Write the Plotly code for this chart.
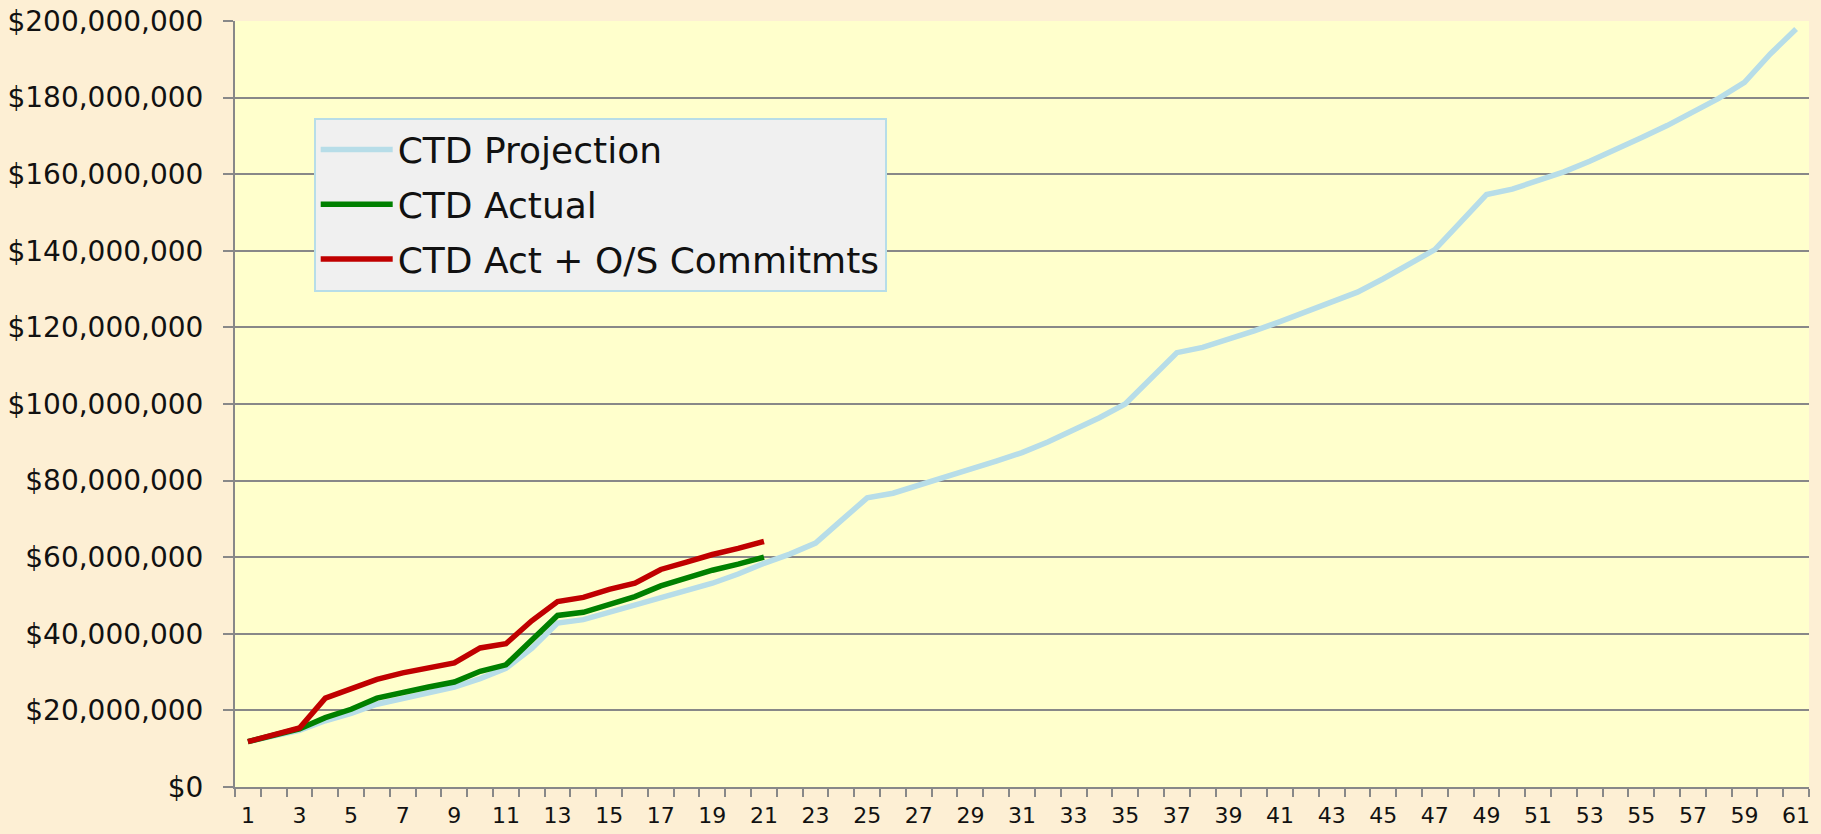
import plotly.graph_objects as go

# ---- data (values in $ millions) ----
months = list(range(1, 62))

ctd_projection = [
    11.85, 13.3, 14.8, 17.3, 19.2, 21.6, 23.2, 24.6, 26.1, 28.3,
    31.0, 36.2, 42.8, 43.7, 45.6, 47.5, 49.7, 51.6, 53.2, 55.6,
    58.4, 60.8, 63.7, 69.6, 75.5, 76.7, 78.7, 80.7, 83.0, 85.1,
    87.3, 90.1, 93.2, 96.4, 100.0, 106.8, 113.4, 114.8, 116.8, 119.1,
    121.5, 124.0, 126.5, 129.2, 132.7, 136.3, 140.3, 147.5, 154.7, 156.1,
    158.2, 160.6, 163.4, 166.3, 169.5, 172.7, 176.3, 179.8, 184.0, 191.4,
    197.9,
]

ctd_actual = [
    11.85, 13.7, 15.2, 18.1, 20.3, 23.2, 24.8, 26.1, 27.4, 30.2,
    31.9, 38.2, 44.8, 45.6, 47.7, 49.7, 52.5, 54.6, 56.6, 58.2,
    60.0,
]

ctd_act_commit = [
    11.85, 13.7, 15.4, 23.2, 25.5, 28.1, 29.8, 31.1, 32.4, 36.3,
    37.4, 43.4, 48.4, 49.5, 51.6, 53.2, 56.8, 58.7, 60.7, 62.3,
    64.1,
]

series_names = ["CTD Projection", "CTD Actual", "CTD Act + O/S Commitmts"]
series_colors = ["#B7DDE8", "#008000", "#C00000"]

M = 1_000_000
series_values = [ctd_projection, ctd_actual, ctd_act_commit]

fig = go.Figure()
for i, (name, vals, col) in enumerate(zip(series_names, series_values, series_colors)):
    fig.add_trace(go.Scatter(
        x=months[:len(vals)],
        y=[v * M for v in vals],
        mode="lines",
        name=name,
        legendgroup=f"g{i}",
        line=dict(color=col, width=5.5),
    ))

FONT = "DejaVu Sans"
GRID = "#888888"

fig.update_layout(
    width=1821,
    height=834,
    autosize=False,
    margin=dict(l=235, r=12, t=21, b=47, autoexpand=False),
    paper_bgcolor="#FDEFD4",
    plot_bgcolor="#FFFFCC",
    font=dict(family=FONT, color="#111111"),
    showlegend=True,
    legend=dict(
        x=0.05, y=0.874, xanchor="left", yanchor="top",
        bgcolor="#F0F0F0",
        bordercolor="#B7DDE8",
        borderwidth=2,
        font=dict(family=FONT, size=36, color="#111111"),
        tracegroupgap=5,
        itemwidth=72,
        traceorder="grouped",
    ),
    xaxis=dict(
        range=[0.5, 61.5],
        tickmode="linear", tick0=1, dtick=2,
        ticks="",
        showgrid=False,
        zeroline=False,
        automargin=False,
        showline=True, linecolor=GRID, linewidth=2,
        tickfont=dict(family=FONT, size=22, color="#111111"),
        ticklabelstandoff=8,
        minor=dict(tick0=0.5, dtick=1, ticks="outside", ticklen=8,
                   tickcolor=GRID, tickwidth=2, showgrid=False),
    ),
    yaxis=dict(
        range=[0, 200 * M],
        tickmode="linear", tick0=0, dtick=20 * M,
        tickprefix="$", tickformat=",.0f",
        ticks="outside", ticklen=10, tickcolor=GRID, tickwidth=2,
        showgrid=True, gridcolor=GRID, gridwidth=2,
        zeroline=False,
        automargin=False,
        showline=True, linecolor=GRID, linewidth=2,
        tickfont=dict(family=FONT, size=28, color="#111111"),
        ticklabelstandoff=14,
    ),
)

fig.write_html(
    "out.html",
    config={"displayModeBar": False},
    post_script="document.body.style.margin='0';",
)
